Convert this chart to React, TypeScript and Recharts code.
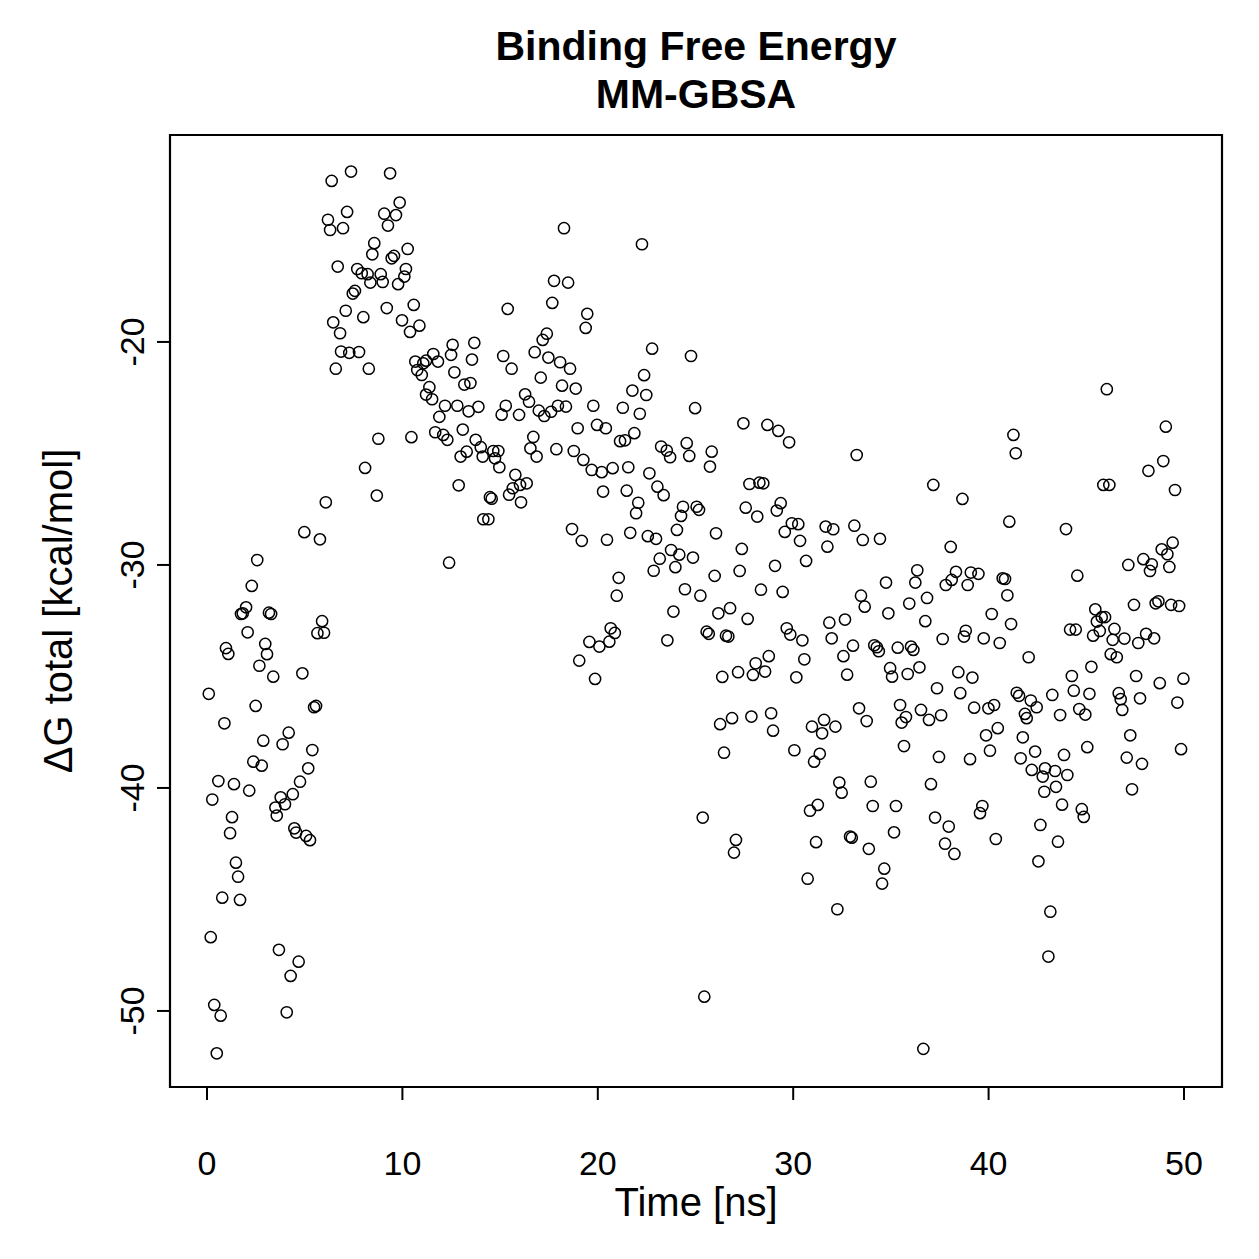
import React from 'react';
import { ScatterChart, Scatter, XAxis, YAxis, ReferenceArea, Label } from 'recharts';

// Simulation time (ns) of each MM-GBSA snapshot
const timeNs = [
  6.38, 7.37, 9.37, 9.86, 9.07, 9.67, 9.26, 6.19, 7.17, 6.30,
  6.96, 8.56, 8.46, 10.27, 9.45, 9.57, 6.69, 7.69, 7.92, 8.22,
  8.89, 8.36, 8.99, 10.18, 10.10, 9.78, 7.57, 7.46, 7.10, 8.00,
  9.20, 10.58, 6.46, 6.81, 9.98, 10.39, 10.87, 6.86, 7.28, 7.78,
  6.59, 8.28, 10.66, 11.07, 11.58, 11.82, 11.21, 10.76, 10.99, 11.38,
  11.21, 11.52, 11.89, 11.68, 8.77, 10.46, 8.09,
  18.27, 22.26, 17.76, 18.48, 17.67, 15.39, 19.46, 19.38, 17.39, 17.18,
  12.57, 13.68, 12.49, 13.56, 15.16, 15.59, 16.77, 17.47, 18.07, 18.58,
  22.78, 24.77, 22.37, 12.66, 13.17, 13.48, 17.08, 18.17, 18.87, 21.77,
  22.48, 16.28, 16.48, 12.18, 12.81, 13.89, 13.39, 15.29, 15.08, 15.97,
  16.98, 17.26, 17.61, 17.96, 18.37, 19.77, 21.28, 22.15, 24.98, 13.09,
  18.97, 19.96, 20.41, 21.87, 21.14, 21.39, 16.70, 16.55, 16.87, 17.88,
  18.77, 19.26, 12.09, 12.30, 13.75, 14.01, 13.29, 12.98, 14.11, 14.65,
  14.91, 14.74, 23.24, 23.53, 23.70, 24.55, 24.68, 25.83,
  27.45, 28.68, 29.24, 29.79, 33.25,
  46.05, 41.27, 41.39, 49.07, 48.94,
  8.69, 6.08, 4.98, 5.78, 2.57, 2.29, 2.00, 1.83, 1.74, 3.17,
  3.28, 5.89, 5.65, 5.99, 2.08, 0.97, 1.09, 2.98, 3.07, 2.68,
  3.39, 4.88, 0.09, 2.49, 5.48, 5.58, 0.89, 2.88, 4.18, 3.87,
  5.39, 2.37, 2.80, 5.18,
  0.58, 1.38, 2.16, 0.27, 4.76, 4.39, 3.77, 3.99, 3.50, 3.57,
  1.28, 1.18, 4.47, 4.56, 5.07, 5.27, 1.48, 1.59, 0.78, 1.69,
  0.19, 3.68, 4.69, 4.28, 0.37, 0.70, 4.08, 0.50,
  14.96, 19.69, 20.20, 20.76, 21.56, 22.64, 25.74, 12.88, 15.78, 15.65,
  16.02, 16.36, 15.46, 16.07, 14.48, 14.57, 14.14, 14.40, 12.39, 20.27,
  21.48, 22.07, 21.96, 23.05, 23.37, 24.36, 25.06, 25.18, 24.26, 24.05,
  18.68, 19.18, 20.47, 21.66, 22.56, 22.98, 23.75, 24.17, 23.17, 24.87,
  23.97, 22.86, 21.07, 20.97, 24.46, 25.25, 23.87, 20.66, 20.87, 20.59,
  19.57, 20.08, 19.05, 19.86, 23.56, 25.57, 25.68,
  27.76, 28.27, 28.47, 37.17, 38.66, 27.57, 28.16, 29.36, 29.16, 29.93,
  30.26, 29.57, 30.35, 31.66, 32.05, 33.13, 33.56, 34.44, 31.75, 38.06,
  26.05, 27.37, 30.66, 29.07, 27.26, 25.98, 28.35, 29.46, 36.35, 36.25,
  38.33, 39.09, 38.11, 37.81, 38.93, 34.75, 33.47, 33.66, 34.87, 35.94,
  36.85, 36.76, 26.17, 26.77, 27.67, 26.56, 26.68, 29.67, 29.85, 30.47,
  31.85, 32.65, 31.97, 33.06, 32.57, 34.15, 34.28, 34.38, 35.35, 36.03,
  36.15, 37.65, 38.83, 38.74, 34.96, 35.06, 35.86, 36.46, 38.45, 39.17,
  37.36, 38.55, 39.26, 28.75, 28.08, 28.56, 27.94, 27.18, 26.37, 30.57,
  30.16, 32.76, 33.37, 33.76, 35.47, 35.77, 35.55, 36.54, 36.95, 37.57,
  26.26, 26.87, 27.86, 28.87, 28.97, 30.96, 31.58, 32.16, 31.48, 26.46,
  30.06, 31.36, 31.07, 35.67, 37.46, 39.05,
  32.36, 32.48, 33.97, 37.05, 31.26, 30.86, 34.07, 35.26, 37.26, 37.96,
  27.07, 26.97, 31.17, 32.91, 33.00, 33.87, 35.16, 37.77, 38.25, 30.74,
  34.66, 34.55, 32.26, 25.45, 36.66, 25.37,
  48.18, 45.87, 46.18, 49.54, 41.06, 43.96, 49.42, 48.86, 49.15, 47.92,
  48.35, 48.26, 49.25, 47.15, 44.54, 39.48, 40.72, 40.84, 40.96, 40.16,
  41.15, 39.75, 40.57, 42.05, 47.44, 48.55, 48.69, 49.34, 49.75, 45.46,
  45.54, 45.79, 45.96, 45.69, 45.35, 46.44, 46.35, 46.95, 48.06, 48.47,
  47.66, 44.17, 44.46, 46.25, 46.56, 45.26, 44.26, 47.55, 48.76, 49.97,
  39.99, 40.28, 41.44, 41.56, 42.16, 42.46, 41.86, 41.95, 43.26, 43.66,
  44.36, 45.16, 44.64, 44.95, 46.66, 46.76, 46.84, 47.75, 49.66, 39.87,
  40.47, 41.75, 40.07, 42.38, 41.64, 43.86, 45.05, 47.25, 49.85, 47.07,
  47.85,
  42.21, 42.89, 43.40, 44.03, 42.77, 43.45, 42.85, 47.34, 39.68, 39.56,
  43.76, 44.77, 44.87, 42.65, 40.37, 43.55, 42.55, 43.16, 43.06,
];

// Total binding free energy ΔG (kcal/mol) for the same snapshots
const deltaG = [
  -12.78, -12.36, -12.44, -13.75, -14.25, -14.31, -14.78, -14.52, -14.17, -14.98,
  -14.90, -15.57, -16.07, -15.83, -16.25, -16.14, -16.62, -16.73, -16.92, -16.96,
  -16.96, -17.34, -17.31, -16.73, -17.07, -17.41, -17.71, -17.83, -18.60, -18.89,
  -18.48, -18.34, -19.12, -19.61, -19.03, -19.55, -19.27, -20.43, -20.49, -20.45,
  -21.20, -21.20, -20.88, -20.96, -20.54, -20.88, -20.84, -21.26, -21.48, -22.03,
  -22.36, -22.57, -23.36, -24.05, -24.34, -24.27, -25.65,
  -14.90, -15.62, -17.26, -17.34, -18.25, -18.52, -18.74, -19.37, -19.63, -19.91,
  -20.13, -20.04, -20.58, -20.79, -20.63, -21.20, -20.46, -20.70, -20.91, -21.20,
  -20.30, -20.63, -21.49, -21.36, -21.91, -21.84, -21.60, -21.96, -22.09, -22.18,
  -22.38, -22.35, -22.68, -22.86, -22.86, -22.91, -23.11, -22.86, -23.26, -23.27,
  -23.08, -23.32, -23.13, -22.86, -22.90, -22.86, -22.95, -23.22, -22.97, -23.93,
  -23.87, -23.72, -23.87, -24.09, -24.45, -24.41, -24.26, -24.77, -25.14, -24.81,
  -24.89, -25.29, -24.17, -24.39, -24.39, -24.72, -24.92, -25.14, -25.14, -24.89,
  -24.89, -25.22, -24.69, -24.87, -25.17, -24.54, -25.11, -24.92,
  -23.65, -23.72, -23.99, -24.50, -25.07,
  -22.12, -24.17, -24.99, -23.80, -25.34,
  -26.89, -27.19, -28.53, -28.85, -29.78, -30.94, -31.90, -32.17, -32.20, -32.14,
  -32.20, -32.52, -33.06, -33.04, -33.02, -33.73, -33.99, -33.54, -34.00, -34.52,
  -35.01, -34.86, -35.78, -36.32, -36.38, -36.32, -37.10, -37.88, -37.52, -38.04,
  -38.30, -38.82, -39.00, -39.12,
  -39.69, -39.83, -40.12, -40.52, -39.72, -40.28, -40.42, -40.73, -40.88, -41.24,
  -41.31, -42.03, -41.81, -42.00, -42.15, -42.34, -43.35, -43.98, -44.92, -45.02,
  -46.69, -47.26, -47.79, -48.43, -49.73, -50.21, -50.06, -51.90,
  -25.62, -25.74, -25.84, -25.66, -25.62, -25.89, -25.59, -26.43, -25.96, -26.56,
  -26.41, -26.34, -26.85, -27.19, -26.96, -27.03, -27.95, -27.95, -29.90, -26.71,
  -26.67, -27.21, -27.68, -26.49, -26.87, -27.39, -27.39, -27.53, -27.80, -28.43,
  -28.39, -28.92, -28.87, -28.56, -28.71, -28.83, -29.33, -29.54, -29.72, -29.67,
  -30.10, -30.26, -30.58, -31.38, -31.09, -31.38, -32.09, -32.84, -33.05, -33.44,
  -33.45, -33.66, -34.29, -35.11, -33.38, -32.99, -33.09,
  -26.37, -26.31, -26.34, -26.41, -27.04, -27.43, -27.83, -27.23, -27.56, -28.13,
  -28.17, -28.52, -28.92, -28.28, -28.40, -28.24, -28.88, -28.83, -29.18, -29.19,
  -28.58, -29.28, -29.82, -30.04, -30.27, -30.49, -31.11, -31.21, -30.24, -30.79,
  -30.31, -30.34, -30.67, -30.90, -30.90, -30.79, -31.38, -31.87, -32.17, -31.73,
  -31.48, -32.52, -32.17, -31.94, -32.42, -33.17, -33.21, -32.84, -33.12, -33.38,
  -32.59, -32.45, -33.29, -33.62, -34.09, -33.60, -33.69, -33.87, -33.71, -33.66,
  -33.81, -33.32, -32.95, -33.21, -34.63, -35.01, -34.89, -34.59, -34.81, -35.05,
  -35.53, -35.75, -36.40, -34.09, -34.41, -34.78, -34.93, -34.81, -35.02, -34.23,
  -35.04, -34.92, -36.43, -37.00, -36.28, -36.82, -37.07, -36.50, -36.95, -36.74,
  -37.14, -36.87, -36.80, -36.65, -37.43, -37.25, -36.95, -37.25, -37.55, -38.42,
  -38.31, -38.47, -38.82, -38.12, -38.61, -38.71,
  -39.76, -40.21, -39.72, -39.83, -40.76, -41.02, -40.81, -40.81, -41.33, -41.73,
  -42.33, -42.90, -42.43, -42.18, -42.23, -42.73, -41.99, -42.50, -42.96, -44.07,
  -43.62, -44.29, -45.44, -49.36, -51.70, -41.33,
  -25.78, -26.41, -26.41, -26.64, -28.06, -28.39, -29.00, -29.30, -29.52, -29.74,
  -29.97, -30.27, -30.09, -30.00, -30.48, -30.40, -30.60, -30.63, -31.36, -32.20,
  -32.65, -33.29, -33.50, -34.14, -31.79, -31.72, -31.63, -31.79, -31.84, -31.99,
  -32.54, -32.34, -32.34, -32.96, -33.17, -32.87, -33.36, -33.30, -33.09, -33.29,
  -33.50, -32.90, -32.90, -34.00, -34.14, -34.57, -34.98, -34.98, -35.30, -35.10,
  -36.43, -36.28, -35.73, -35.87, -36.08, -36.38, -36.68, -36.87, -35.83, -36.73,
  -35.64, -35.78, -36.46, -36.71, -35.75, -36.02, -36.50, -35.98, -36.17, -37.64,
  -37.32, -37.73, -38.33, -38.37, -38.67, -38.52, -38.17, -37.64, -38.26, -38.64,
  -38.92,
  -39.19, -39.12, -39.24, -39.42, -39.49, -39.95, -40.17, -40.06, -40.81, -41.13,
  -40.75, -40.95, -41.30, -41.66, -42.29, -42.41, -43.29, -45.55, -47.56,
];

const xTicks = [0, 10, 20, 30, 40, 50];
const yTicks = [-50, -40, -30, -20];
const titleLines = ['Binding Free Energy', 'MM-GBSA'];
const xTitle = 'Time [ns]';
const yTitle = 'ΔG total [kcal/mol]';

const WIDTH = 1259;
const HEIGHT = 1259;
const X_DOMAIN: [number, number] = [-1.894, 51.945];
const Y_DOMAIN: [number, number] = [-53.41, -10.72];
const FONT = '"Liberation Sans", Arial, Helvetica, sans-serif';
const TICK_FONT = 34;
const AXIS_TITLE_FONT = 40;
const TITLE_FONT = 41;

const points = timeNs.map((t, i) => ({ t, g: deltaG[i] }));

const OpenCircle = (props: any) => (
  <circle cx={props.cx} cy={props.cy} r={5.6} fill="none" stroke="#000" strokeWidth={1.5} />
);

const XTick = (props: any) => (
  <text x={props.x} y={props.y + 75} textAnchor="middle" fontSize={TICK_FONT} fontFamily={FONT} fill="#000">
    {props.payload.value}
  </text>
);

const YTick = (props: any) => {
  const bx = 144;
  return (
    <text
      x={bx}
      y={props.y}
      transform={`rotate(-90, ${bx}, ${props.y})`}
      textAnchor="middle"
      fontSize={TICK_FONT}
      fontFamily={FONT}
      fill="#000"
    >
      {props.payload.value}
    </text>
  );
};

const XTitle = () => (
  <text x={696} y={1216} textAnchor="middle" fontSize={AXIS_TITLE_FONT} fontFamily={FONT} fill="#000">
    {xTitle}
  </text>
);

const YTitle = () => (
  <text x={72} y={611} transform="rotate(-90, 72, 611)" textAnchor="middle" fontSize={AXIS_TITLE_FONT} fontFamily={FONT} fill="#000">
    {yTitle}
  </text>
);

export default function App() {
  return (
    <div style={{ position: 'absolute', left: 0, top: 0, width: WIDTH, height: HEIGHT, background: '#fff' }}>
      <svg width={WIDTH} height={150} style={{ position: 'absolute', left: 0, top: 0 }}>
        <text x={696} y={60} textAnchor="middle" fontSize={TITLE_FONT} fontWeight="bold" fontFamily={FONT} fill="#000">
          {titleLines[0]}
        </text>
        <text x={696} y={108} textAnchor="middle" fontSize={TITLE_FONT} fontWeight="bold" fontFamily={FONT} fill="#000">
          {titleLines[1]}
        </text>
      </svg>
      <ScatterChart width={WIDTH} height={HEIGHT} margin={{ top: 135, right: 37, bottom: 72, left: 70 }}>
        <XAxis
          type="number"
          dataKey="t"
          domain={X_DOMAIN}
          ticks={xTicks}
          allowDataOverflow
          axisLine={false}
          tickSize={13}
          tickMargin={0}
          tickLine={{ stroke: '#000', strokeWidth: 2 }}
          tick={<XTick />}
          height={100}
        >
          <Label content={<XTitle />} />
        </XAxis>
        <YAxis
          type="number"
          dataKey="g"
          domain={Y_DOMAIN}
          ticks={yTicks}
          allowDataOverflow
          axisLine={false}
          tickSize={13}
          tickMargin={0}
          tickLine={{ stroke: '#000', strokeWidth: 2 }}
          tick={<YTick />}
          width={100}
        >
          <Label content={<YTitle />} />
        </YAxis>
        <ReferenceArea
          x1={X_DOMAIN[0]}
          x2={X_DOMAIN[1]}
          y1={Y_DOMAIN[0]}
          y2={Y_DOMAIN[1]}
          fill="none"
          stroke="#000"
          strokeWidth={2.2}
          ifOverflow="visible"
        />
        <Scatter data={points} shape={<OpenCircle />} isAnimationActive={false} />
      </ScatterChart>
    </div>
  );
}
